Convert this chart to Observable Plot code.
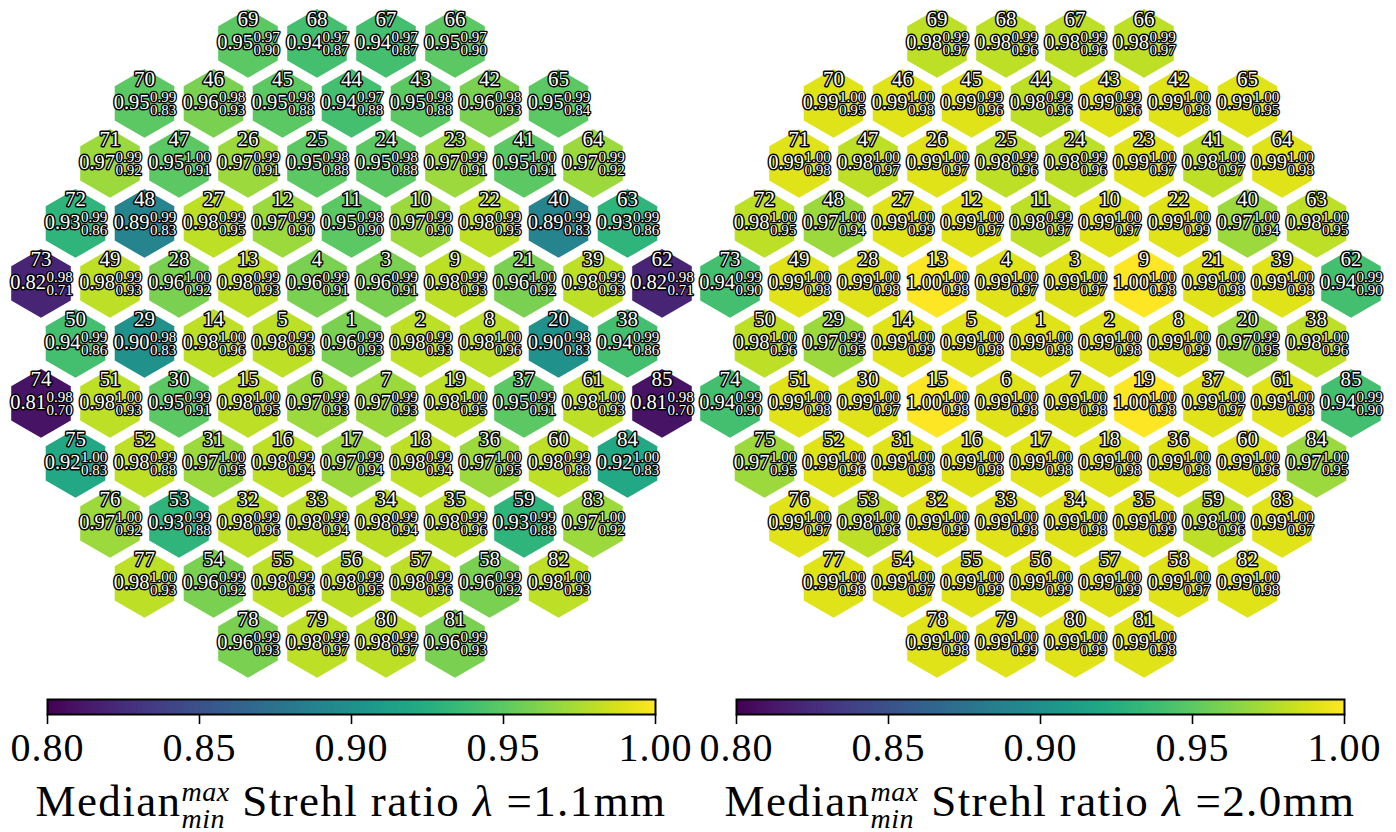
<!DOCTYPE html>
<html><head><meta charset="utf-8">
<script src="https://cdn.jsdelivr.net/npm/d3@7"></script>
<script src="https://cdn.jsdelivr.net/npm/@observablehq/plot@0.6"></script>
<style>
html,body{margin:0;padding:0;background:#fff;}
#root{position:relative;width:1396px;height:832px;overflow:hidden;font-family:"Liberation Serif",serif;color:#000;}
.abs{position:absolute;}
.title{position:absolute;top:779px;font-size:45px;line-height:44px;letter-spacing:1.4px;white-space:nowrap;transform:translateX(-50%);}
.ss{position:relative;display:inline-block;font-size:28px;line-height:28px;font-style:italic;letter-spacing:0.5px;}
.ss .mx{position:relative;top:-15px;}
.ss .mn{position:absolute;left:0;top:0;transform:translateY(12px);}
</style>
</head><body><div id="root"></div>
<script>
// Segment layout: rows of segment ids (top to bottom)
const rows = [
  [69,68,67,66],
  [70,46,45,44,43,42,65],
  [71,47,26,25,24,23,41,64],
  [72,48,27,12,11,10,22,40,63],
  [73,49,28,13,4,3,9,21,39,62],
  [50,29,14,5,1,2,8,20,38],
  [74,51,30,15,6,7,19,37,61,85],
  [75,52,31,16,17,18,36,60,84],
  [76,53,32,33,34,35,59,83],
  [77,54,55,56,57,58,82],
  [78,79,80,81]
];

// lambda = 1.1 mm (row order as above)
const med11 = [
  .95,.94,.94,.95,
  .95,.96,.95,.94,.95,.96,.95,
  .97,.95,.97,.95,.95,.97,.95,.97,
  .93,.89,.98,.97,.95,.97,.98,.89,.93,
  .82,.98,.96,.98,.96,.96,.98,.96,.98,.82,
  .94,.90,.98,.98,.96,.98,.98,.90,.94,
  .81,.98,.95,.98,.97,.97,.98,.95,.98,.81,
  .92,.98,.97,.98,.97,.98,.97,.98,.92,
  .97,.93,.98,.98,.98,.98,.93,.97,
  .98,.96,.98,.98,.98,.96,.98,
  .96,.98,.98,.96
];
const max11 = [
  .97,.97,.97,.97,
  .99,.98,.98,.97,.98,.98,.99,
  .99,1.00,.99,.98,.98,.99,1.00,.99,
  .99,.99,.99,.99,.98,.99,.99,.99,.99,
  .98,.99,1.00,.99,.99,.99,.99,1.00,.99,.98,
  .99,.98,1.00,.99,.99,.99,1.00,.98,.99,
  .98,1.00,.99,1.00,.99,.99,1.00,.99,1.00,.98,
  1.00,.99,1.00,.99,.99,.99,1.00,.99,1.00,
  1.00,.99,.99,.99,.99,.99,.99,1.00,
  1.00,.99,.99,.99,.99,.99,1.00,
  .99,.99,.99,.99
];
const min11 = [
  .90,.87,.87,.90,
  .83,.93,.88,.88,.88,.93,.84,
  .92,.91,.91,.88,.88,.91,.91,.92,
  .86,.83,.95,.90,.90,.90,.95,.83,.86,
  .71,.93,.92,.93,.91,.91,.93,.92,.93,.71,
  .86,.83,.96,.93,.93,.93,.96,.83,.86,
  .70,.93,.91,.95,.93,.93,.95,.91,.93,.70,
  .83,.88,.95,.94,.94,.94,.95,.88,.83,
  .92,.88,.96,.94,.94,.96,.88,.92,
  .93,.92,.96,.95,.96,.92,.93,
  .93,.97,.97,.93
];

// lambda = 2.0 mm
const med20 = [
  .98,.98,.98,.98,
  .99,.99,.99,.98,.99,.99,.99,
  .99,.98,.99,.98,.98,.99,.98,.99,
  .98,.97,.99,.99,.98,.99,.99,.97,.98,
  .94,.99,.99,1.00,.99,.99,1.00,.99,.99,.94,
  .98,.97,.99,.99,.99,.99,.99,.97,.98,
  .94,.99,.99,1.00,.99,.99,1.00,.99,.99,.94,
  .97,.99,.99,.99,.99,.99,.99,.99,.97,
  .99,.98,.99,.99,.99,.99,.98,.99,
  .99,.99,.99,.99,.99,.99,.99,
  .99,.99,.99,.99
];
const max20 = [
  .99,.99,.99,.99,
  1.00,1.00,.99,.99,.99,1.00,1.00,
  1.00,1.00,1.00,.99,.99,1.00,1.00,1.00,
  1.00,1.00,1.00,1.00,.99,1.00,1.00,1.00,1.00,
  .99,1.00,1.00,1.00,1.00,1.00,1.00,1.00,1.00,.99,
  1.00,.99,1.00,1.00,1.00,1.00,1.00,.99,1.00,
  .99,1.00,1.00,1.00,1.00,1.00,1.00,1.00,1.00,.99,
  1.00,1.00,1.00,1.00,1.00,1.00,1.00,1.00,1.00,
  1.00,1.00,1.00,1.00,1.00,1.00,1.00,1.00,
  1.00,1.00,1.00,1.00,1.00,1.00,1.00,
  1.00,1.00,1.00,1.00
];
const min20 = [
  .97,.96,.96,.97,
  .95,.98,.96,.96,.96,.98,.95,
  .98,.97,.97,.96,.96,.97,.97,.98,
  .95,.94,.99,.97,.97,.97,.99,.94,.95,
  .90,.98,.98,.98,.97,.97,.98,.98,.98,.90,
  .96,.95,.99,.98,.98,.98,.99,.95,.96,
  .90,.98,.97,.98,.98,.98,.98,.97,.98,.90,
  .95,.96,.98,.98,.98,.98,.98,.96,.95,
  .97,.96,.99,.98,.98,.99,.96,.97,
  .98,.97,.99,.99,.99,.97,.98,
  .98,.99,.99,.98
];

const colorTicks = [0.80, 0.85, 0.90, 0.95, 1.00];
const titles = ["1.1mm", "2.0mm"];

const fmt = d3.format(".2f");
const FONT = "Liberation Serif, serif";
const colorOpts = {type: "linear", scheme: "viridis", domain: [0.8, 1]};

function buildData(med, mx, mn) {
  const out = [];
  let k = 0;
  rows.forEach((row, r) => {
    row.forEach((id, i) => {
      out.push({id, col: i - (row.length - 1) / 2, row: r, med: med[k], max: mx[k], min: mn[k]});
      k++;
    });
  });
  return out;
}

function hexMap(data) {
  const txt = {x: "col", y: "row", fill: "white", stroke: "black", strokeLinejoin: "round", fontFamily: FONT};
  return Plot.plot({
    width: 702, height: 690,
    margin: 0,
    x: {domain: [0, 1], range: [351, 420], axis: null},
    y: {domain: [0, 1], range: [42.9, 102.9], axis: null},
    color: colorOpts,
    style: {background: "transparent", overflow: "visible", fontFamily: FONT},
    marks: [
      Plot.dot(data, {x: "col", y: "row", r: 29.8, symbol: "hexagon", fill: "med"}),
      Plot.text(data, {...txt, text: d => String(d.id), dy: -24.5, fontSize: 21, strokeWidth: 3}),
      Plot.text(data, {...txt, text: d => fmt(d.med), textAnchor: "end", dx: 5, dy: -0.5, fontSize: 20.5, strokeWidth: 3}),
      Plot.text(data, {...txt, text: d => fmt(d.max), textAnchor: "start", dx: 5.5, dy: -6, fontSize: 15, strokeWidth: 2.6}),
      Plot.text(data, {...txt, text: d => fmt(d.min), textAnchor: "start", dx: 5.5, dy: 6.5, fontSize: 15, strokeWidth: 2.6})
    ]
  });
}

function colorBar() {
  return Plot.plot({
    width: 702, height: 100,
    marginTop: 9, marginBottom: 76, marginLeft: 47, marginRight: 47,
    x: {domain: [0.8, 1], axis: null},
    y: {domain: [0, 1], axis: null},
    color: colorOpts,
    style: {background: "transparent", overflow: "visible", fontFamily: FONT, letterSpacing: "1px", color: "black"},
    marks: [
      Plot.raster({x1: 0.8, x2: 1, y1: 0, y2: 1, fill: (x, y) => x}),
      Plot.frame({stroke: "black", strokeWidth: 2}),
      Plot.axisX({ticks: colorTicks, tickFormat: fmt, tickSize: 10, tickPadding: 8, fontSize: 40, strokeWidth: 1.6, label: null})
    ]
  });
}

const root = document.getElementById("root");
const panels = [
  {data: buildData(med11, max11, min11), left: 0, title: titles[0]},
  {data: buildData(med20, max20, min20), left: 689, title: titles[1]}
];
panels.forEach(p => {
  const h = hexMap(p.data);
  h.classList.add("abs");
  h.style.left = p.left + "px"; h.style.top = "0px";
  root.appendChild(h);
  const c = colorBar();
  c.classList.add("abs");
  c.style.left = p.left + "px"; c.style.top = "690px";
  root.appendChild(c);
  const t = document.createElement("div");
  t.className = "title";
  t.style.left = (p.left + 351) + "px";
  t.innerHTML = 'Median<span class="ss"><span class="mx">max</span><span class="mn">min</span></span> Strehl ratio <i>λ</i> =' + p.title;
  root.appendChild(t);
});
</script>
</body></html>
